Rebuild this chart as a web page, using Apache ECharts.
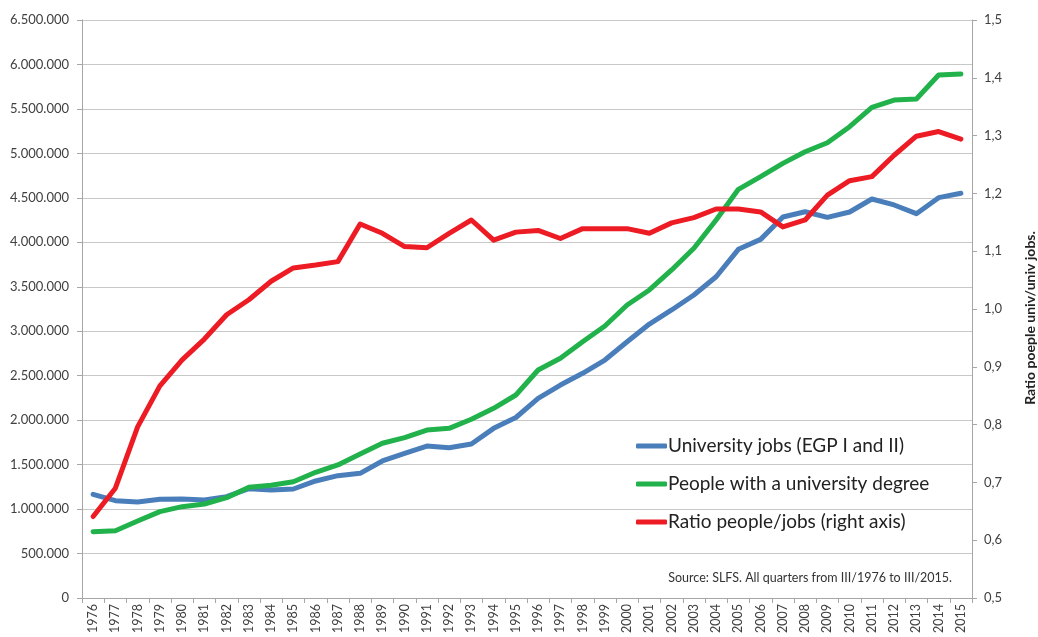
<!DOCTYPE html>
<html>
<head>
<meta charset="utf-8">
<script src="https://cdn.jsdelivr.net/npm/echarts@6/dist/echarts.min.js"></script>
<style>
  html, body { margin: 0; padding: 0; background: #fff; }
  #chart { width: 1038px; height: 637px; }
</style>
</head>
<body>
<div id="chart"></div>
<script>
// years on the x axis
var years = [];
for (var y = 1976; y <= 2015; y++) years.push(String(y));

// University jobs (EGP I and II)
var univJobs = [
  1166000, 1094000, 1080000, 1110000, 1113000, 1102000, 1139000, 1229000, 1215000, 1226000,
  1316000, 1376000, 1402000, 1541000, 1627000, 1709000, 1690000, 1732000, 1908000, 2030000,
  2246000, 2395000, 2527000, 2676000, 2882000, 3081000, 3239000, 3407000, 3613000, 3921000,
  4033000, 4284000, 4344000, 4281000, 4341000, 4487000, 4420000, 4322000, 4502000, 4551000
];

// People with a university degree
var univPeople = [
  746000, 757000, 866000, 971000, 1027000, 1057000, 1128000, 1245000, 1267000, 1308000,
  1414000, 1496000, 1619000, 1740000, 1803000, 1889000, 1908000, 2010000, 2133000, 2283000,
  2564000, 2696000, 2882000, 3059000, 3295000, 3464000, 3689000, 3933000, 4251000, 4596000,
  4738000, 4888000, 5019000, 5120000, 5300000, 5518000, 5600000, 5612000, 5882000, 5893000
];

// Ratio people/jobs (right axis)
var ratio = [
  0.641, 0.690, 0.796, 0.867, 0.912, 0.948, 0.990, 1.016, 1.048, 1.071,
  1.076, 1.082, 1.147, 1.131, 1.108, 1.106, 1.131, 1.154, 1.119, 1.133,
  1.136, 1.122, 1.139, 1.139, 1.139, 1.131, 1.149, 1.158, 1.173, 1.173,
  1.168, 1.142, 1.154, 1.197, 1.222, 1.229, 1.266, 1.299, 1.307, 1.294
];

var seriesNames = [
  "University jobs (EGP I and II)",
  "People with a university degree",
  "Ratio people/jobs (right axis)"
];

var fontFamily = "Lato, 'Open Sans', sans-serif";

function dotThousands(v) {
  return String(v).replace(/\B(?=(\d{3})+(?!\d))/g, ".");
}

var chart = echarts.init(document.getElementById("chart"));

var option = {
  animation: false,
  textStyle: { fontFamily: fontFamily },
  color: ["#4a7ebb", "#21b24b", "#ed1c24"],
  grid: {
    left: 82,
    right: 66,
    top: 20,
    bottom: 39,
    containLabel: false,
    outerBoundsMode: "none"
  },
  legend: {
    orient: "vertical",
    left: 631,
    top: 431,
    itemGap: 18,
    itemWidth: 31,
    itemHeight: 5,
    icon: "roundRect",
    data: seriesNames,
    textStyle: {
      fontSize: 19,
      lineHeight: 20,
      color: "#222",
      fontFamily: fontFamily,
      padding: [0, 0, 0, -4]
    }
  },
  graphic: [
    {
      type: "text",
      right: 86,
      top: 571,
      style: {
        text: "Source: SLFS. All quarters from III/1976 to III/2015.",
        fontSize: 12.5,
        fontFamily: fontFamily,
        fill: "#333"
      }
    }
  ],
  xAxis: {
    type: "category",
    data: years,
    boundaryGap: true,
    axisLine: { lineStyle: { color: "#a6a6a6" } },
    axisTick: { show: true, alignWithLabel: false, length: 5, lineStyle: { color: "#a6a6a6" } },
    axisLabel: {
      interval: 0,
      rotate: 90,
      fontSize: 12.5,
      color: "#404040",
      margin: 6
    },
    splitLine: { show: false }
  },
  yAxis: [
    {
      type: "value",
      min: 0,
      max: 6500000,
      interval: 500000,
      axisLine: { show: true, lineStyle: { color: "#a6a6a6" } },
      axisTick: { show: true, length: 5, lineStyle: { color: "#a6a6a6" } },
      axisLabel: {
        fontSize: 13,
        color: "#404040",
        margin: 13,
        formatter: function (v) { return dotThousands(v); }
      },
      splitLine: { show: true, lineStyle: { color: "#c8c8c8", width: 1 } }
    },
    {
      type: "value",
      min: 0.5,
      max: 1.5,
      interval: 0.1,
      position: "right",
      name: "Ratio poeple univ/univ jobs.",
      nameLocation: "middle",
      nameRotate: 90,
      nameGap: 51,
      nameTextStyle: {
        fontSize: 14,
        fontWeight: "bold",
        color: "#222",
        padding: [0, 18, 0, 0]
      },
      axisLine: { show: true, lineStyle: { color: "#a6a6a6" } },
      axisTick: { show: true, length: 5, lineStyle: { color: "#a6a6a6" } },
      axisLabel: {
        fontSize: 13,
        color: "#404040",
        margin: 12,
        formatter: function (v) { return v.toFixed(1).replace(".", ","); }
      },
      splitLine: { show: false }
    }
  ],
  series: [
    {
      name: seriesNames[0],
      type: "line",
      data: univJobs,
      yAxisIndex: 0,
      showSymbol: false,
      symbol: "none",
      lineStyle: { width: 5, cap: "round", join: "round" }
    },
    {
      name: seriesNames[1],
      type: "line",
      data: univPeople,
      yAxisIndex: 0,
      showSymbol: false,
      symbol: "none",
      lineStyle: { width: 5, cap: "round", join: "round" }
    },
    {
      name: seriesNames[2],
      type: "line",
      data: ratio,
      yAxisIndex: 1,
      showSymbol: false,
      symbol: "none",
      lineStyle: { width: 5, cap: "round", join: "round" }
    }
  ]
};

chart.setOption(option);
</script>
</body>
</html>
